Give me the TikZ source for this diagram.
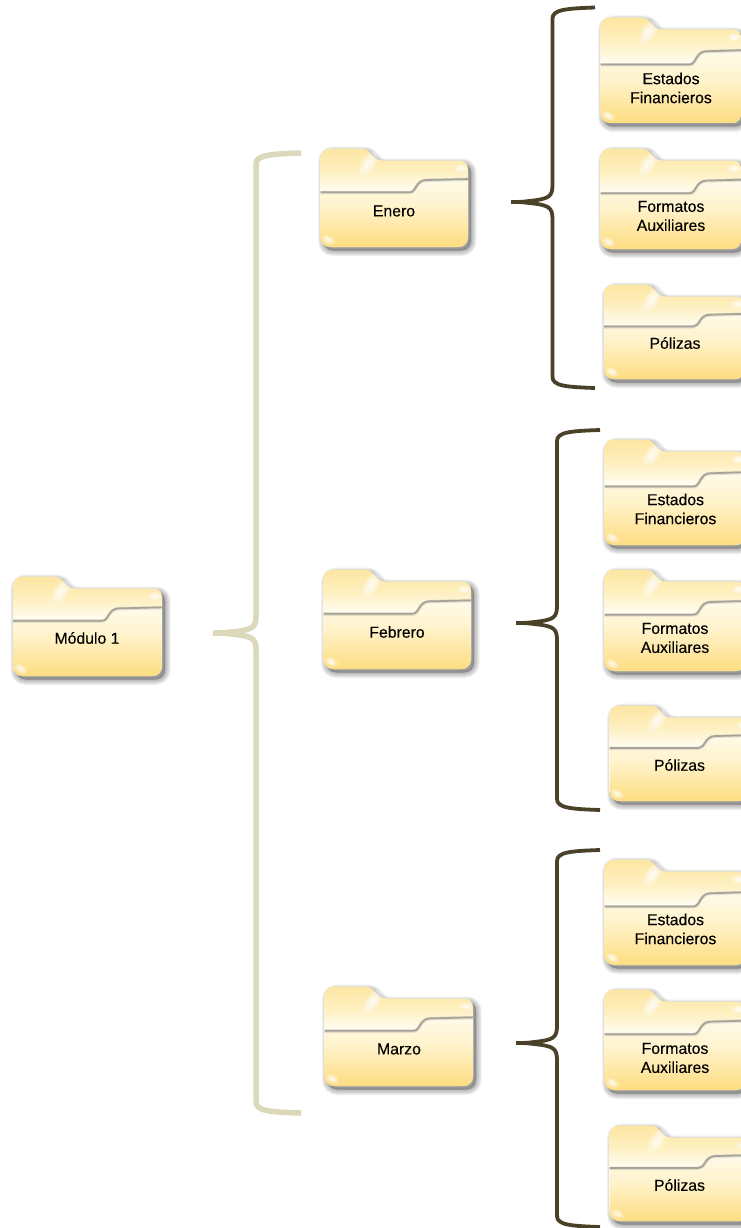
\documentclass[tikz,border=0pt]{standalone}
\usepackage{fontspec}
\setmainfont{Liberation Sans}
\newfontfamily\folderfont[FakeBold=0.25]{Liberation Sans}
\definecolor{bigbrace}{HTML}{DCD8BC}
\definecolor{darkbrace}{HTML}{4A4228}
\definecolor{divline}{HTML}{A5A297}
\definecolor{shadowc}{HTML}{4A4A4A}
\definecolor{fa}{HTML}{FADA85}
\definecolor{fb}{HTML}{FDE296}
\definecolor{fc}{HTML}{FEEFBE}
\definecolor{fd}{HTML}{FFFCEE}
\definecolor{fe}{HTML}{FFF3CC}
\definecolor{ff}{HTML}{FEDC7E}
\definecolor{fg}{HTML}{FDE9A8}
\pgfdeclareverticalshading{folderrear}{100bp}{
  color(0bp)=(fd);
  color(54bp)=(fd);
  color(64bp)=(fc);
  color(80bp)=(fb);
  color(100bp)=(fa)}
\pgfdeclareverticalshading{folderfront}{100bp}{
  color(0bp)=(fg);
  color(8bp)=(ff);
  color(24bp)=(ff);
  color(55bp)=(fe);
  color(78bp)=(fd);
  color(100bp)=(fd)}
\newcommand{\folderoutline}[2]{%
  (0,10) .. controls (0,4) and (4,0) .. (10,0)
  -- (40,0) .. controls (52,0) and (50,12) .. (62,12)
  -- ({#1-9},12) .. controls ({#1-3},12) and (#1,16) .. (#1,21)
  -- (#1,{#2-10}) .. controls (#1,{#2-4}) and ({#1-4},#2) .. ({#1-10},#2)
  -- (10,#2) .. controls (4,#2) and (0,{#2-4}) .. (0,{#2-10}) -- cycle}
% \folder{name}{x}{y}{w}{h}{text x}{text y}{text}
\newcommand{\folder}[8]{%
  \begin{scope}[shift={(#2,#3)}]
    \foreach \lw in {11,9,7,5,3,1}
      \path[shift={(3,3.5)},draw=shadowc,fill=shadowc,opacity=.08,line width=\lw pt,line join=round]
        \folderoutline{#4}{#5};
    \path[shading=folderrear] \folderoutline{#4}{#5};
    \path[shading=folderfront]
      (0,{.445*#5}) -- (89,{.445*#5})
      .. controls (96,{.445*#5}) and (95,{.32*#5}) .. (106,{.32*#5})
      -- (#4,{.31*#5}) -- (#4,{#5-10})
      .. controls (#4,{#5-4}) and ({#4-4},#5) .. ({#4-10},#5)
      -- (10,#5) .. controls (4,#5) and (0,{#5-4}) .. (0,{#5-10}) -- cycle;
    \draw[divline,opacity=.3,line width=3.4pt]
      (0,{.445*#5+.3}) -- (89,{.445*#5+.3})
      .. controls (96,{.445*#5+.3}) and (95,{.32*#5+.3}) .. (106,{.32*#5+.3})
      -- (#4,{.31*#5+.3});
    \draw[divline,line width=1.7pt]
      (0,{.445*#5}) -- (89,{.445*#5})
      .. controls (96,{.445*#5}) and (95,{.32*#5}) .. (106,{.32*#5})
      -- (#4,{.31*#5});
    \foreach \sc/\op in {1.2/.18,1/.22,.75/.3,.5/.35}{
      \fill[white,opacity=\op,rotate around={-35:(48,15)}] (48,15) ellipse ({6*\sc} and {12*\sc});
      \fill[white,opacity=\op] ({#4-7},20) ellipse ({6*\sc} and {3.5*\sc});
      \fill[white,opacity=\op,rotate around={-30:(8,{#5-7})}] (8,{#5-7}) ellipse ({6*\sc} and {3.5*\sc});
    }
  \end{scope}
  \node[foldertext] (#1) at (#6,#7) {#8};
}
% \curlybrace{name}{top x}{top y}{spine x}{tip x}{tip y}{bottom y}
\newcommand{\curlybrace}[7]{%
  \coordinate (#1top) at (#2,#3);
  \coordinate (#1tip) at (#5,#6);
  \coordinate (#1bot) at (#2,#7);
  \draw (#1top) .. controls ({#4+14},{#3+1}) and (#4,{#3+2}) .. (#4,{#3+11})
    -- (#4,{#6-17}) .. controls (#4,{#6-5}) and ({#4-4},{#6-3}) .. ({#5+18},{#6-1})
    .. controls ({#5+12},#6) and ({#5+6},#6) .. (#1tip)
    .. controls ({#5+6},#6) and ({#5+12},#6) .. ({#5+18},{#6+1})
    .. controls ({#4-4},{#6+3}) and (#4,{#6+5}) .. (#4,{#6+17})
    -- (#4,{#7-11}) .. controls (#4,{#7-2}) and ({#4+14},{#7-1}) .. (#1bot);
}
\tikzset{
  foldertext/.style={align=center,font=\folderfont\fontsize{15.8}{19}\selectfont,text=black,inner sep=0pt},
  bigbracestyle/.style={draw=bigbrace,line width=5.5pt,line join=miter},
  darkbracestyle/.style={draw=darkbrace,line width=3.8pt,line join=miter}
}
\begin{document}
\begin{tikzpicture}[x=1pt,y=-1pt]
\useasboundingbox (0,0) rectangle (741,1228);
\clip (0,0) rectangle (741,1228);
\fill[white] (0,0) rectangle (741,1228);
\begin{scope}[bigbracestyle]
  \curlybrace{bmain}{301}{153}{256}{213}{633}{1113}
\end{scope}
\begin{scope}[darkbracestyle]
  \curlybrace{bene}{595}{7.5}{552.5}{511}{202}{388}
  \curlybrace{bfeb}{600}{430}{557}{516}{623}{810}
  \curlybrace{bmar}{600}{850}{557}{516}{1043}{1227}
\end{scope}
\folder{modulo}{13}{576.5}{149}{99.5}{87}{638}{Módulo 1}
\folder{enero}{320.5}{148.5}{147.5}{98.5}{394}{211}{Enero}
\folder{febrero}{323.5}{569.5}{147.5}{99.5}{397}{632}{Febrero}
\folder{marzo}{324.5}{986.5}{148.5}{99.5}{399}{1049}{Marzo}
\folder{ef1}{600.5}{17.5}{141}{105.5}{671}{88}{Estados\\Financieros}
\folder{fa1}{600.5}{148.5}{141}{100.5}{671}{216}{Formatos\\Auxiliares}
\folder{po1}{604}{284.5}{141}{94.5}{675}{343}{Pólizas}
\folder{ef2}{604.5}{439.5}{141}{105.5}{675.5}{509}{Estados\\Financieros}
\folder{fa2}{604.5}{569.5}{141}{101.5}{675}{638}{Formatos\\Auxiliares}
\folder{po2}{609.5}{705.5}{141}{95.5}{679.5}{765}{Pólizas}
\folder{ef3}{604.5}{859.5}{141}{105.5}{675.5}{929}{Estados\\Financieros}
\folder{fa3}{604.5}{989.5}{141}{100.5}{675}{1058}{Formatos\\Auxiliares}
\folder{po3}{609.5}{1125.5}{141}{95.5}{679.5}{1185}{Pólizas}
\end{tikzpicture}
\end{document}
